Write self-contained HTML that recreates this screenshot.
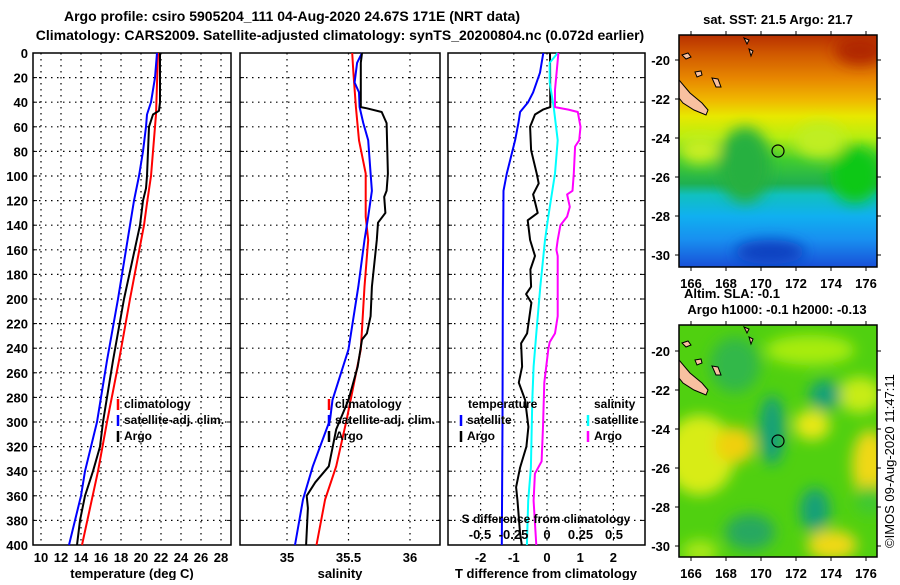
<!DOCTYPE html>
<html><head><meta charset="utf-8"><style>
body{margin:0;background:#fff;}
svg text{font-family:"Liberation Sans",sans-serif;font-weight:bold;fill:#000;}
</style></head><body>
<svg id="fig" width="900" height="580" viewBox="0 0 900 580" xmlns="http://www.w3.org/2000/svg">
<defs>
<linearGradient id="sstGrad" x1="0" y1="0" x2="0" y2="1">
<stop offset="0" stop-color="#b83000"/><stop offset="0.08" stop-color="#d05800"/><stop offset="0.19" stop-color="#e88800"/><stop offset="0.28" stop-color="#f0b800"/><stop offset="0.35" stop-color="#e8e800"/><stop offset="0.44" stop-color="#b8ee10"/><stop offset="0.54" stop-color="#40cc30"/><stop offset="0.64" stop-color="#20b050"/><stop offset="0.69" stop-color="#10c0c0"/><stop offset="0.78" stop-color="#10b0f0"/><stop offset="0.88" stop-color="#1890f0"/><stop offset="1" stop-color="#1850d8"/>
</linearGradient>
<filter id="blur8"><feGaussianBlur stdDeviation="7"/></filter>
<clipPath id="clipTop"><rect x="679" y="35" width="198" height="232"/></clipPath>
<clipPath id="clipBot"><rect x="679" y="325" width="198" height="232"/></clipPath>
</defs>
<text x="292" y="21" font-size="14" text-anchor="middle">Argo profile: csiro 5905204_111 04-Aug-2020 24.67S 171E (NRT data)</text>
<text x="340" y="40" font-size="14" text-anchor="middle">Climatology: CARS2009. Satellite-adjusted climatology: synTS_20200804.nc (0.072d earlier)</text>
<g id="panels"></g>
<g>
<g clip-path="url(#clipTop)">
<rect x="679" y="35" width="198" height="232" fill="url(#sstGrad)"/>
<g filter="url(#blur8)">
<ellipse cx="745" cy="165" rx="26" ry="38" fill="#28b040"/>
<ellipse cx="855" cy="175" rx="25" ry="28" fill="#10c818"/>
<ellipse cx="700" cy="150" rx="20" ry="14" fill="#c8ee20"/>
<ellipse cx="860" cy="50" rx="25" ry="15" fill="#b02800"/>
<ellipse cx="770" cy="252" rx="35" ry="12" fill="#1040c0"/>
<ellipse cx="820" cy="140" rx="25" ry="18" fill="#c0ee20"/>
</g>
<polygon points="679,80 690,93 702,103 708,110 706,115 694,110 683,103 679,98" fill="#f8c0a0" stroke="#000" stroke-width="1"/>
<path d="M682,55 l6,-2 l3,4 l-5,2z M695,72 l6,-1 l1,4 l-5,2z M712,78 l6,1 l3,8 l-5,0z M744,38 l5,2 l-2,4z M749,49 l4,2 l-2,5z" fill="#f8c0a0" stroke="#000" stroke-width="1"/>
</g>
<rect x="679" y="35" width="198" height="232" fill="none" stroke="#000" stroke-width="1.5"/>
<circle cx="778" cy="151" r="6" fill="none" stroke="#000" stroke-width="1.2"/>
<g id="topTicks"></g>
<text x="778" y="24" font-size="13" text-anchor="middle">sat. SST: 21.5 Argo: 21.7</text>
</g>
<text x="732" y="298" font-size="13" text-anchor="middle">Altim. SLA: -0.1</text>
<text x="777" y="314" font-size="13" text-anchor="middle">Argo h1000: -0.1 h2000: -0.13</text>
<g>
<g clip-path="url(#clipBot)">
<rect x="679" y="325" width="198" height="232" fill="#50d010"/>
<g filter="url(#blur8)">
<ellipse cx="700" cy="455" rx="35" ry="40" fill="#d8ec18"/>
<ellipse cx="735" cy="445" rx="20" ry="18" fill="#f0d010"/>
<ellipse cx="870" cy="465" rx="18" ry="35" fill="#f0d818"/>
<ellipse cx="812" cy="425" rx="18" ry="15" fill="#e8e818"/>
<ellipse cx="832" cy="545" rx="25" ry="15" fill="#f0d818"/>
<ellipse cx="810" cy="350" rx="45" ry="15" fill="#a8ec10"/>
<ellipse cx="860" cy="395" rx="22" ry="18" fill="#c8ec18"/>
<ellipse cx="772" cy="430" rx="13" ry="35" fill="#18a078"/>
<ellipse cx="825" cy="395" rx="16" ry="15" fill="#18a078"/>
<ellipse cx="815" cy="510" rx="15" ry="22" fill="#18a078"/>
<ellipse cx="750" cy="532" rx="25" ry="18" fill="#28a860"/>
<ellipse cx="735" cy="365" rx="25" ry="28" fill="#30b848"/>
<ellipse cx="700" cy="552" rx="18" ry="12" fill="#a8e818"/>
<ellipse cx="870" cy="500" rx="15" ry="15" fill="#40c830"/>
</g>
<polygon points="679,360 690,373 702,383 708,390 706,395 694,390 683,383 679,378" fill="#f8c0a0" stroke="#000" stroke-width="1"/>
<path d="M682,343 l6,-2 l3,4 l-5,2z M695,360 l6,-1 l1,4 l-5,2z M712,366 l6,1 l3,8 l-5,0z M744,327 l5,2 l-2,4z M749,337 l4,2 l-2,5z" fill="#f8c0a0" stroke="#000" stroke-width="1"/>
</g>
<rect x="679" y="325" width="198" height="232" fill="none" stroke="#000" stroke-width="1.5"/>
<circle cx="778" cy="441" r="6" fill="none" stroke="#000" stroke-width="1.2"/>
<g id="botTicks"></g>
</g>
<text transform="translate(894,548) rotate(-90)" font-size="13" style="font-weight:normal">©IMOS 09-Aug-2020 11:47:11</text>
</svg>
<script>
const depthTicks = [0,20,40,60,80,100,120,140,160,180,200,220,240,260,280,300,320,340,360,380,400];
const tempTicks = [10,12,14,16,18,20,22,24,26,28];
const salTicks = [35,35.5,36];
const salTickLabels = ["35","35.5","36"];
const tdiffTicks = [-2,-1,0,1,2];
const sdiffTicks = [-0.5,-0.25,0,0.25,0.5];
const sdiffTickLabels = ["-0.5","-0.25","0","0.25","0.5"];

const tClimD = [0,50,100,122,140,200,250,300,340,400];
const tClimV = [21.7,21.5,21.0,20.6,20.3,18.9,17.8,16.6,15.7,14.1];
const tSatD = [0,20,40,50,60,80,100,120,140,200,250,300,340,360,400];
const tSatV = [21.6,21.4,21.0,20.6,20.5,20.2,19.8,19.3,18.9,17.7,16.6,15.6,14.4,14.0,12.8];
const tArgoD = [0,40,47,50,60,80,100,110,120,140,200,250,300,320,340,360,380,400];
const tArgoV = [21.9,21.9,21.8,21.2,20.8,20.7,20.6,20.5,20.2,19.9,18.3,17.2,16.2,15.9,15.2,14.4,13.9,13.6];

const sClimD = [0,16,44,71,98,133,152,190,241,298,336,363,400];
const sClimV = [35.53,35.54,35.56,35.585,35.64,35.64,35.66,35.63,35.60,35.485,35.40,35.31,35.24];
const sSatD = [0,8,24,32,44,57,71,98,112,133,152,190,241,282,298,336,363,400];
const sSatV = [35.61,35.57,35.55,35.585,35.59,35.62,35.66,35.68,35.69,35.66,35.63,35.58,35.50,35.37,35.35,35.21,35.13,35.065];
const sArgoD = [0,8,44,45,48,57,98,112,117,130,138,152,190,214,228,233,255,282,306,336,349,360,370,400];
const sArgoV = [35.61,35.60,35.60,35.65,35.77,35.81,35.82,35.81,35.79,35.80,35.74,35.73,35.69,35.68,35.65,35.61,35.575,35.50,35.40,35.34,35.23,35.16,35.17,35.155];

const dTSatD = [0,16,32,40,48,57,71,98,112,200,300,400];
const dTSatV = [-0.11,-0.21,-0.42,-0.57,-0.81,-0.86,-0.96,-1.21,-1.31,-1.33,-1.34,-1.36];
const dTArgoD = [0,44,46,50,60,79,98,106,115,130,136,152,165,176,190,196,203,228,236,255,268,282,304,320,337,353,364,391,400];
const dTArgoV = [0.09,0.10,-0.12,-0.36,-0.51,-0.48,-0.31,-0.25,-0.42,-0.28,-0.58,-0.51,-0.36,-0.50,-0.48,-0.63,-0.47,-0.60,-0.78,-0.75,-0.85,-0.66,-0.56,-0.62,-0.81,-0.93,-0.89,-0.81,-0.76];
const dSSatD = [0,8,24,44,71,98,133,152,190,228,255,282,337,364,400];
const dSSatV = [0.08,0.02,0.02,0.05,0.08,0.06,0.01,-0.015,-0.05,-0.08,-0.10,-0.11,-0.12,-0.14,-0.15];
const dSArgoD = [0,30,44,46,48,60,71,76,98,112,115,125,133,140,152,160,165,190,214,228,235,241,268,304,332,342,364,400];
const dSArgoV = [0.085,0.06,0.06,0.16,0.23,0.25,0.24,0.21,0.20,0.19,0.15,0.17,0.15,0.10,0.08,0.07,0.08,0.08,0.08,0.06,0.02,0.01,-0.02,-0.03,-0.04,-0.09,-0.10,-0.08];

const latTicks = [-20,-22,-24,-26,-28,-30];
const lonTicks = [166,168,170,172,174,176];

const NS = "http://www.w3.org/2000/svg";
const svg = document.getElementById('fig');
const panelsG = document.getElementById('panels');
const Y0 = 53, Y1 = 545;
function yD(d){ return Y0 + d*(Y1-Y0)/400; }
function xT(t){ return 41 + (t-10)*10; }
function xS(s){ return 287 + (s-35)*123; }
function xDT(v){ return 547 + v*33.2; }
function xDS(v){ return 547 + v*134; }
function mk(tag, attrs, parent){
  const e = document.createElementNS(NS, tag);
  for (const k in attrs) e.setAttribute(k, attrs[k]);
  (parent||svg).appendChild(e); return e;
}
function txt(x,y,s,size,anchor,parent){
  const t = mk('text',{x:x,y:y,'font-size':size,'text-anchor':anchor||'start'},parent);
  t.textContent = s; return t;
}
function panel(name, x0, x1, xTicksVals, xFun){
  const g = mk('g',{},panelsG);
  
  
  depthTicks.forEach(d=>{
    if(d>0 && d<400) mk('line',{x1:x0,x2:x1,y1:yD(d),y2:yD(d),stroke:'#000','stroke-width':1.2,'stroke-dasharray':'1.5,4.5'},g);
    mk('line',{x1:x0,x2:x0+4,y1:yD(d),y2:yD(d),stroke:'#000'},g);
    mk('line',{x1:x1-4,x2:x1,y1:yD(d),y2:yD(d),stroke:'#000'},g);
  });
  xTicksVals.forEach(v=>{
    const x = xFun(v);
    if(x>x0+1 && x<x1-1) mk('line',{x1:x,x2:x,y1:Y0,y2:Y1,stroke:'#000','stroke-width':1.2,'stroke-dasharray':'1.5,4.5'},g);
  });
  mk('rect',{x:x0,y:Y0,width:x1-x0,height:Y1-Y0,fill:'none',stroke:'#000','stroke-width':1.5},g);
  return g;
}
function series(g, name, D, V, xFun, color){
  const pts = D.map((d,i)=>xFun(V[i]).toFixed(1)+','+yD(d).toFixed(1)).join(' ');
  const p = mk('polyline',{points:pts,fill:'none',stroke:color,'stroke-width':2,'stroke-linejoin':'round'},g);
  
  
}
function legend(g, x, y, color, label){
  mk('line',{x1:x,x2:x,y1:y-9,y2:y+2,stroke:color,'stroke-width':2.5},g);
  const t = txt(x+6,y,label,12,'start',g);
  
  
}

const p1 = panel('temperature-panel', 33, 231, tempTicks, xT);
depthTicks.forEach(d=>{
  const t = txt(28, yD(d)+5, String(d), 13, 'end', p1);
  
  
});
tempTicks.forEach(v=>{
  const t = txt(xT(v), 562, String(v), 13, 'middle', p1);
  
  
});
const xl1 = txt(132, 578, 'temperature (deg C)', 13, 'middle', p1);


series(p1,'temp-climatology-line',tClimD,tClimV,xT,'#ff0000');
series(p1,'temp-satellite-line',tSatD,tSatV,xT,'#0000ff');
series(p1,'temp-argo-line',tArgoD,tArgoV,xT,'#000000');
legend(p1,118,408,'#ff0000','climatology');
legend(p1,118,424,'#0000ff','satellite-adj. clim.');
legend(p1,118,440,'#000000','Argo');

const p2 = panel('salinity-panel', 240, 440, salTicks, xS);
salTicks.forEach((v,i)=>{
  const t = txt(xS(v), 562, salTickLabels[i], 13, 'middle', p2);
  
  
});
const xl2 = txt(340, 578, 'salinity', 13, 'middle', p2);


series(p2,'sal-climatology-line',sClimD,sClimV,xS,'#ff0000');
series(p2,'sal-satellite-line',sSatD,sSatV,xS,'#0000ff');
series(p2,'sal-argo-line',sArgoD,sArgoV,xS,'#000000');
legend(p2,329,408,'#ff0000','climatology');
legend(p2,329,424,'#0000ff','satellite-adj. clim.');
legend(p2,329,440,'#000000','Argo');

const p3 = panel('difference-panel', 448, 645, tdiffTicks, xDT);
tdiffTicks.forEach(v=>{
  const t = txt(xDT(v), 562, String(v), 13, 'middle', p3);
  
  
});
const xl3 = txt(546, 578, 'T difference from climatology', 13, 'middle', p3);


series(p3,'tdiff-satellite-line',dTSatD,dTSatV,xDT,'#0000ff');
series(p3,'tdiff-argo-line',dTArgoD,dTArgoV,xDT,'#000000');
series(p3,'sdiff-satellite-line',dSSatD,dSSatV,xDS,'#00ffff');
series(p3,'sdiff-argo-line',dSArgoD,dSArgoV,xDS,'#ff00ff');
txt(468,408,'temperature',12,'start',p3);
legend(p3,461,424,'#0000ff','satellite');
legend(p3,461,440,'#000000','Argo');
txt(594,408,'salinity',12,'start',p3);
legend(p3,588,424,'#00ffff','satellite');
legend(p3,588,440,'#ff00ff','Argo');
const sdt = txt(546, 523, 'S difference from climatology', 12, 'middle', p3);


sdiffTicks.forEach((v,i)=>{
  const t = txt(xDS(v), 539, sdiffTickLabels[i], 13, 'middle', p3);
  
  
});

function mapTicks(gid, top, bottom, lat20y, lonLabelY){
  const g = document.getElementById(gid);
  const lonX = v => 691 + (v-166)*17.5;
  const latY = v => lat20y + (-20 - v)*19.5;
  latTicks.forEach(v=>{
    const y = latY(v);
    mk('line',{x1:675,x2:679,y1:y,y2:y,stroke:'#000'},g);
    mk('line',{x1:877,x2:881,y1:y,y2:y,stroke:'#000'},g);
    const t = txt(670, y+5, String(v), 13, 'end', g);
    
    
  });
  lonTicks.forEach(v=>{
    const x = lonX(v);
    mk('line',{x1:x,x2:x,y1:top-4,y2:top,stroke:'#000'},g);
    mk('line',{x1:x,x2:x,y1:bottom,y2:bottom+4,stroke:'#000'},g);
    const t = txt(x, lonLabelY, String(v), 13, 'middle', g);
    
    
  });
}
mapTicks('topTicks', 35, 267, 60, 288);
mapTicks('botTicks', 325, 557, 351, 578);
</script>
</body></html>
